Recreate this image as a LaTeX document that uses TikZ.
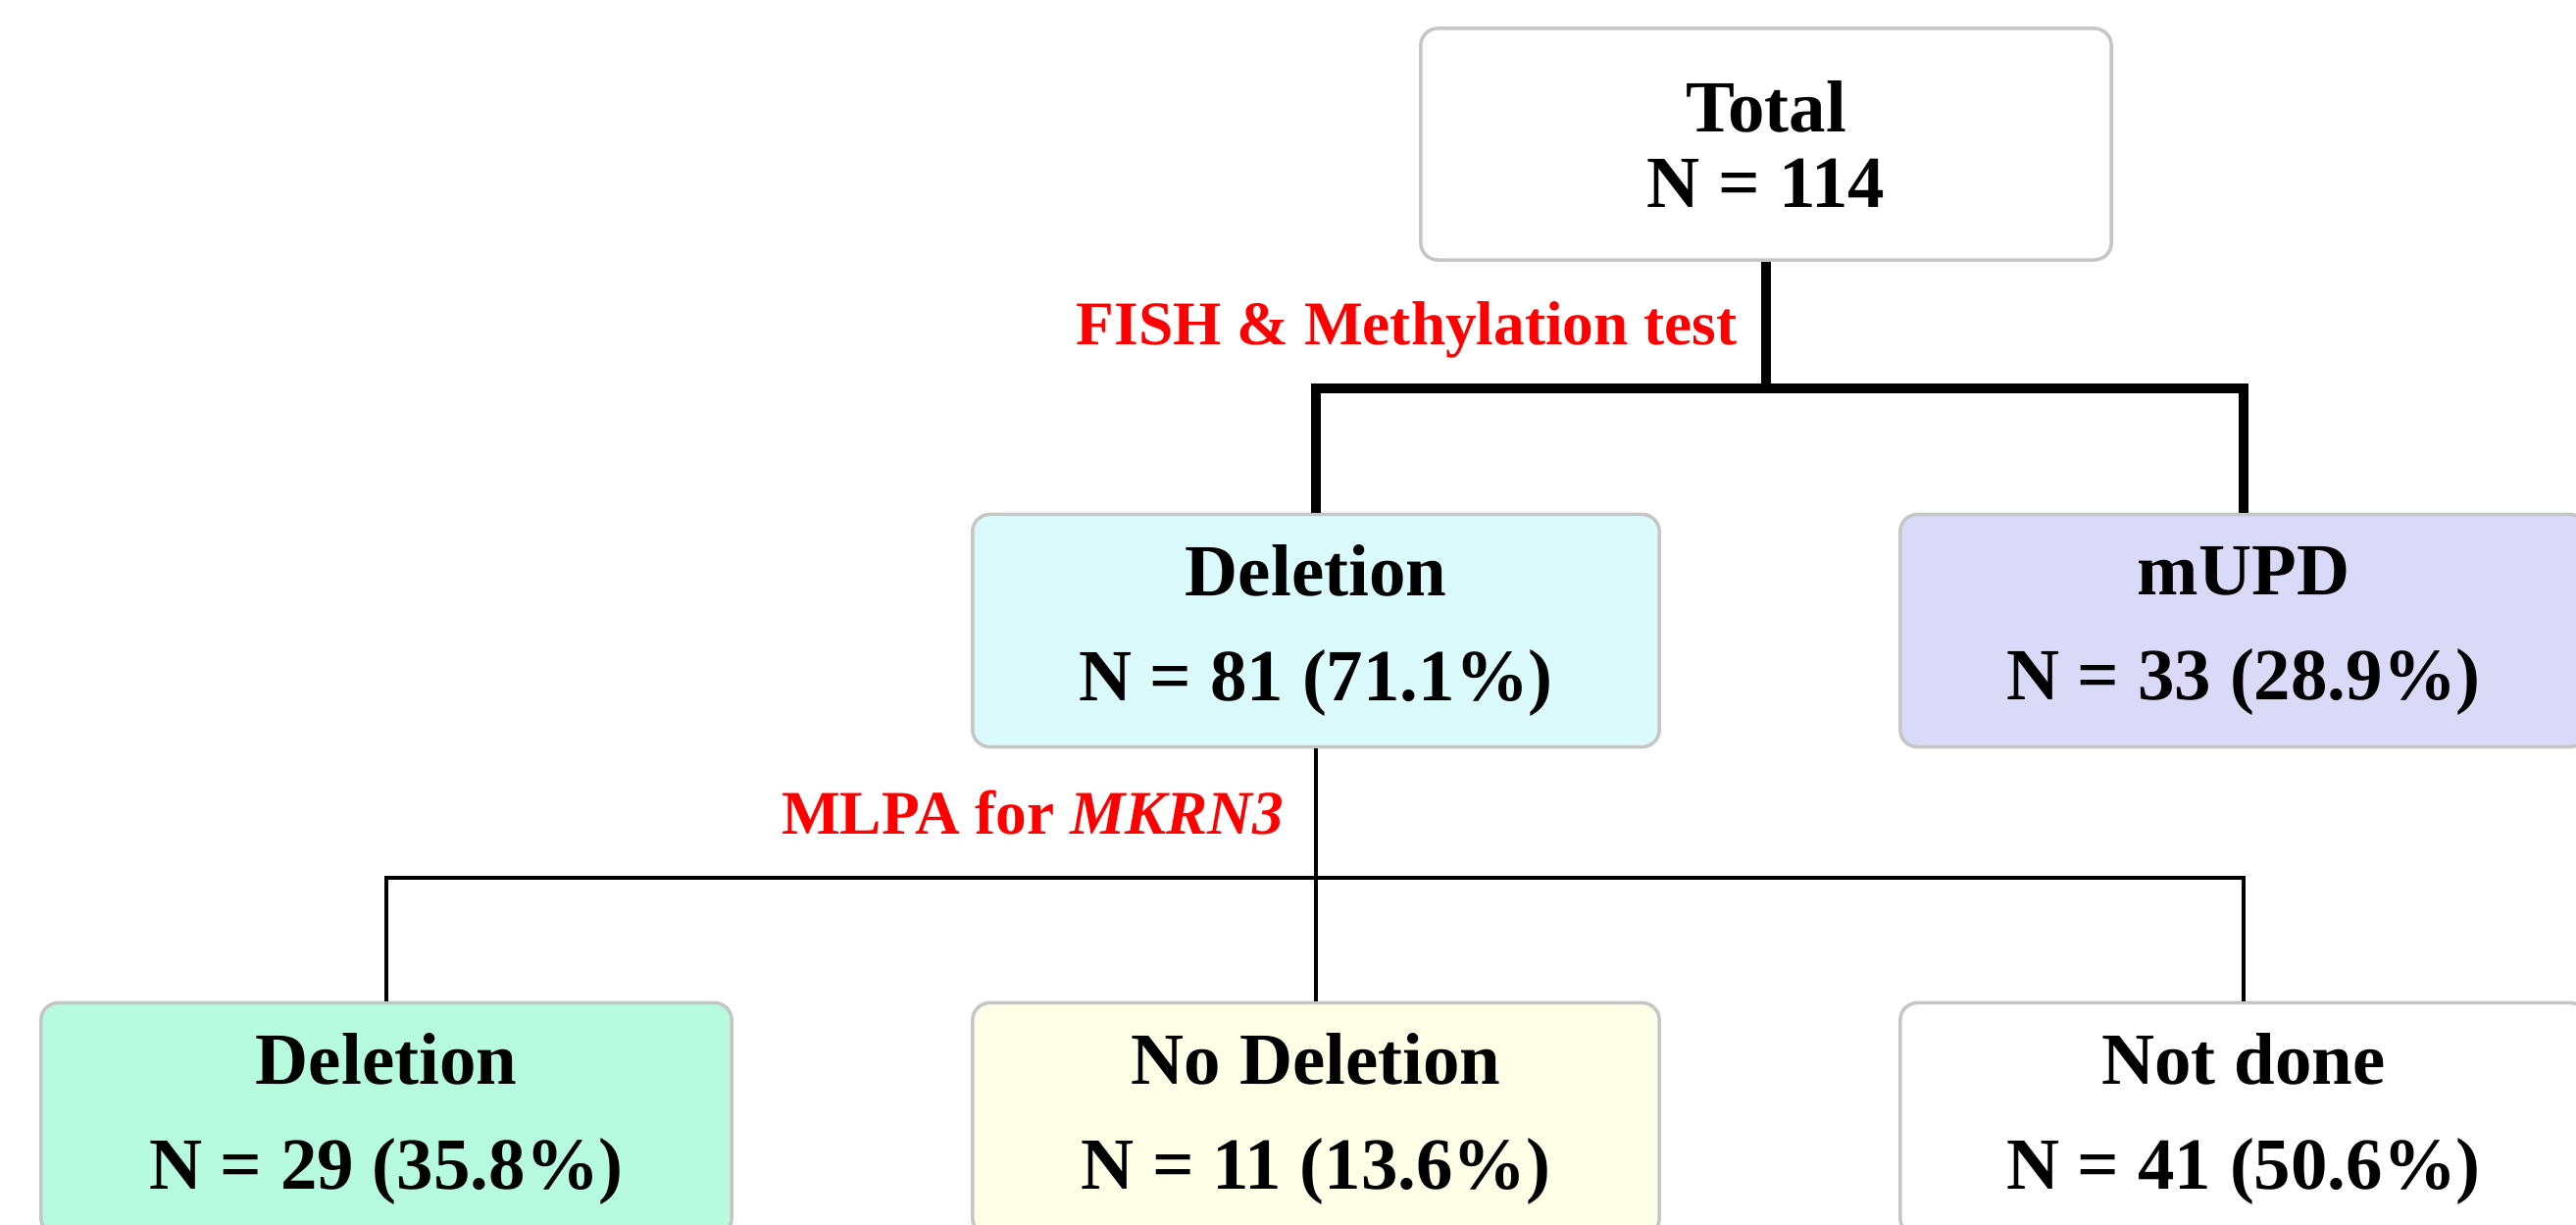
\documentclass[tikz,border=0pt]{standalone}
\usepackage{fontspec}
\setmainfont{Liberation Serif}
\usepackage{tikz}
\usetikzlibrary{positioning, calc}

\definecolor{boxcyan}{RGB}{219,250,252}
\definecolor{boxlilac}{RGB}{218,218,248}
\definecolor{boxmint}{RGB}{182,250,224}
\definecolor{boxcream}{RGB}{255,255,232}
\definecolor{labelred}{RGB}{255,0,0}

\begin{document}
\begin{tikzpicture}[x=0.01cm,y=-0.01cm,
        groupbox/.style={draw=gray!45, line width=1pt, rounded corners=5pt,
            minimum width=7cm, minimum height=2.37cm, align=center,
            font=\fontsize{21.3pt}{30.4pt}\selectfont\bfseries},
        testlabel/.style={text=labelred, anchor=base east, inner sep=0pt,
            font=\fontsize{18pt}{20pt}\selectfont\bfseries},
        mainline/.style={line width=2.6pt},
        subline/.style={line width=1.3pt}]
        \useasboundingbox (0,0) rectangle (2627,1248);
        \node[groupbox, fill=white, minimum width=7.04cm, minimum height=2.36cm,
            font=\fontsize{21.3pt}{22pt}\selectfont\bfseries] (total) at (1801,147) {Total\\N = 114};
        \node[groupbox, fill=boxcyan] (deletion) at (1342,643) {Deletion\\N = 81 (71.1\%)};
        \node[groupbox, fill=boxlilac] (mupd) at (2288,643) {mUPD\\N = 33 (28.9\%)};
        \node[groupbox, fill=boxmint, minimum width=7.04cm] (deletionB) at (394,1141) {Deletion\\N = 29 (35.8\%)};
        \node[groupbox, fill=boxcream] (nodeletion) at (1342,1141) {No Deletion\\N = 11 (13.6\%)};
        \node[groupbox, fill=white] (notdone) at (2288,1141) {Not done\\N = 41 (50.6\%)};
        \coordinate (split1) at (total.south |- 0,396);
        \coordinate (split2) at (deletion.south |- 0,895);
        \draw[mainline] (total.south) -- (split1);
        \draw[mainline, line join=miter] (deletion.north) |- (split1) -| (mupd.north);
        \draw[subline] (deletion.south) -- (nodeletion.north);
        \draw[subline] (deletionB.north) |- (split2) -| (notdone.north);
        \node[testlabel] (fishlabel) at (1772,351) {FISH \& Methylation test};
        \node[testlabel] (mlpalabel) at (1310,850) {MLPA for \textit{MKRN3}};
\end{tikzpicture}
\end{document}
